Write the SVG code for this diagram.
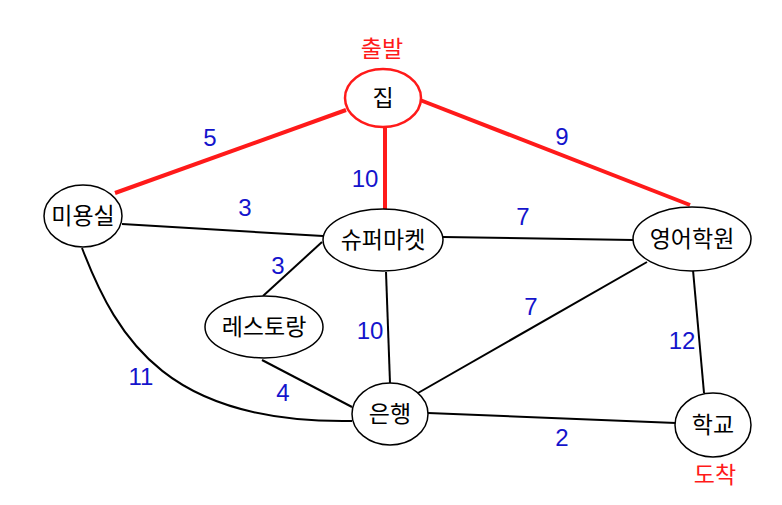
<svg xmlns="http://www.w3.org/2000/svg" width="782" height="505" viewBox="0 0 782 505">
<style>
.node{fill:#fff;stroke:#000;stroke-width:1.5}
.start{fill:#fff;stroke:#ff1a1a;stroke-width:2.5}
.lbl{font-family:"Noto Sans CJK KR","Noto Sans",sans-serif;font-size:23px;fill:#000;text-anchor:middle}
.tag{font-family:"Noto Sans CJK KR","Noto Sans",sans-serif;font-size:23px;fill:#ff1a1a;text-anchor:middle}
.w{font-family:"Liberation Sans","Noto Sans",sans-serif;font-size:24px;fill:#1414cc;text-anchor:middle}
.e{fill:none;stroke:#000;stroke-width:2}
.r{fill:none;stroke:#ff1a1a;stroke-width:4}
</style>
<rect width="782" height="505" fill="#fff"/>
<g id="connectors">
<line class="r" x1="115" y1="193" x2="346" y2="110"/>
<line class="r" x1="385" y1="127" x2="385" y2="209"/>
<line class="r" x1="420" y1="100" x2="690" y2="205"/>
<line class="e" x1="122" y1="224" x2="323" y2="236"/>
<line class="e" x1="443" y1="237" x2="633" y2="240"/>
<line class="e" x1="322" y1="242" x2="263" y2="296"/>
<line class="e" x1="386" y1="272" x2="390" y2="383"/>
<line class="e" x1="262" y1="360" x2="352" y2="407"/>
<line class="e" x1="647" y1="262" x2="418" y2="393"/>
<line class="e" x1="693" y1="270" x2="704" y2="393"/>
<line class="e" x1="428" y1="413" x2="676" y2="423"/>
<path class="e" d="M82,248 C118,342 170,424 352,421"/>
<text class="w" x="210" y="146">5</text>
<text class="w" x="365" y="187">10</text>
<text class="w" x="562" y="145">9</text>
<text class="w" x="245" y="216">3</text>
<text class="w" x="523" y="225">7</text>
<text class="w" x="278" y="274">3</text>
<text class="w" x="370" y="339">10</text>
<text class="w" x="531" y="315">7</text>
<text class="w" x="682" y="349">12</text>
<text class="w" x="141" y="385">11</text>
<text class="w" x="283" y="401">4</text>
<text class="w" x="562" y="446">2</text>
</g>
<g id="n-home">
<ellipse class="start" cx="383" cy="98" rx="38" ry="29"/>
<text class="lbl" x="383" y="106">집</text>
<text class="tag" x="382" y="57">출발</text>
</g>
<g id="n-salon">
<ellipse class="node" cx="83" cy="216" rx="39" ry="31"/>
<text class="lbl" x="83" y="224">미용실</text>
</g>
<g id="n-market">
<ellipse class="node" cx="383" cy="240" rx="60" ry="31"/>
<text class="lbl" x="383" y="248">슈퍼마켓</text>
</g>
<g id="n-academy">
<ellipse class="node" cx="692" cy="239" rx="59" ry="32"/>
<text class="lbl" x="692" y="247">영어학원</text>
</g>
<g id="n-restaurant">
<ellipse class="node" cx="264" cy="327" rx="59" ry="31"/>
<text class="lbl" x="264" y="335">레스토랑</text>
</g>
<g id="n-bank">
<ellipse class="node" cx="390" cy="414" rx="38" ry="31"/>
<text class="lbl" x="390" y="422">은행</text>
</g>
<g id="n-school">
<ellipse class="node" cx="713" cy="425" rx="38" ry="32"/>
<text class="lbl" x="713" y="433">학교</text>
<text class="tag" x="715" y="483">도착</text>
</g>
</svg>
